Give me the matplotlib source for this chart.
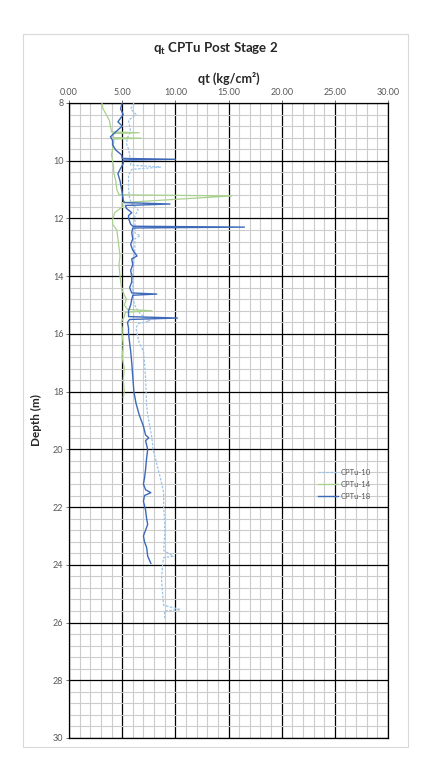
import matplotlib
matplotlib.use("Agg")
import matplotlib.pyplot as plt
from matplotlib.ticker import MultipleLocator, FormatStrFormatter
from matplotlib.patches import Rectangle

plt.rcParams['font.family'] = ['Lato', 'DejaVu Sans']
plt.rcParams['mathtext.fontset'] = 'custom'
plt.rcParams['mathtext.rm'] = 'Lato'
plt.rcParams['mathtext.bf'] = 'Lato:bold'

# ---------------- data ----------------
series_names = ["CPTu-10", "CPTu-14", "CPTu-18"]

cptu10_depth = [8.0, 8.2, 8.4, 8.6, 8.8, 9.0, 9.2, 9.4, 9.6, 9.8, 10.0, 10.15, 10.22, 10.3,
                10.5, 10.7, 11.0, 11.3, 11.5, 11.7, 11.9, 12.2, 12.5, 12.6, 12.7, 13.0, 13.5,
                14.0, 14.5, 14.9, 15.1, 15.3, 15.55, 15.65, 15.8, 16.0, 16.3, 16.6, 17.0, 17.5,
                18.0, 18.5, 18.8, 19.2, 19.6, 20.0, 20.5, 21.0, 21.5, 22.0, 22.5, 23.0, 23.5,
                23.7, 23.75, 24.0, 24.5, 25.0, 25.4, 25.55, 25.6, 25.85]
cptu10_qt = [6.1, 5.8, 6.3, 5.6, 5.7, 5.8, 5.5, 5.4, 5.6, 5.7, 5.8, 5.8, 8.6, 5.9,
             5.6, 5.6, 5.6, 5.7, 5.9, 6.5, 6.2, 6.2, 6.2, 6.7, 6.2, 6.2, 6.1,
             6.0, 6.0, 6.1, 6.3, 6.7, 7.6, 6.5, 6.3, 6.4, 6.6, 7.0, 7.1, 7.2,
             7.25, 7.3, 7.4, 7.6, 7.8, 7.9, 8.25, 8.6, 8.9, 8.9, 9.0, 9.0, 8.9,
             9.8, 8.9, 8.8, 8.7, 8.8, 8.9, 10.5, 9.0, 9.0]

cptu14_depth = [8.0, 8.2, 8.4, 8.6, 8.8, 9.0, 9.03, 9.06, 9.2, 9.22, 9.25, 9.4, 9.6, 9.8,
                10.0, 10.2, 10.4, 10.7, 11.0, 11.18, 11.22, 11.45, 11.6, 11.8, 12.05, 12.2,
                12.4, 12.7, 13.0, 13.3, 13.6, 14.0, 14.3, 14.5, 14.8, 15.0, 15.15, 15.2, 15.25,
                15.4, 15.6, 15.8, 16.0, 16.4, 16.8, 17.2, 17.6, 18.0, 18.2]
cptu14_qt = [3.1, 3.2, 3.5, 3.8, 3.9, 4.0, 6.6, 4.1, 4.2, 6.8, 4.2, 4.2, 4.1, 4.0,
             4.1, 4.2, 4.2, 4.4, 4.5, 4.7, 15.3, 5.0, 5.0, 4.3, 4.1, 4.1,
             4.5, 4.6, 4.7, 4.8, 4.7, 4.8, 4.9, 5.0, 5.4, 5.2, 5.5, 7.8, 5.3,
             5.2, 4.9, 5.0, 5.0, 5.1, 5.0, 5.2, 5.1, 5.2, 5.1]

cptu18_depth = [8.0, 8.2, 8.4, 8.55, 8.65, 8.8, 9.0, 9.17, 9.3, 9.45, 9.63, 9.8, 9.92, 9.95,
                9.98, 10.1, 10.3, 10.45, 10.7, 10.9, 11.1, 11.36, 11.45, 11.5, 11.55, 11.65,
                11.8, 11.9, 12.0, 12.2, 12.27, 12.3, 12.33, 12.5, 12.7, 12.9, 13.1, 13.3, 13.4,
                13.6, 13.8, 14.0, 14.2, 14.4, 14.58, 14.62, 14.66, 14.8, 15.0, 15.2, 15.4,
                15.45, 15.5, 15.6, 15.8, 16.0, 16.3, 16.6, 17.0, 17.5, 18.0, 18.4, 18.8, 19.2,
                19.5, 19.6, 19.7, 20.0, 20.3, 20.7, 21.0, 21.2, 21.4, 21.5, 21.6, 21.8, 22.1,
                22.4, 22.6, 22.8, 23.0, 23.2, 23.4, 23.7, 23.95]
cptu18_qt = [5.0, 4.85, 5.1, 4.8, 4.6, 5.0, 4.4, 3.9, 4.1, 4.1, 4.4, 4.95, 5.0, 10.0,
             5.1, 5.1, 4.8, 4.6, 4.8, 4.9, 5.0, 5.1, 5.2, 9.5, 5.3, 5.4,
             5.9, 5.6, 5.6, 5.8, 6.0, 16.5, 6.0, 5.9, 6.0, 5.8, 6.0, 6.4, 5.9,
             6.0, 5.8, 5.9, 5.9, 5.7, 5.9, 8.25, 6.0, 5.9, 5.8, 5.6, 5.6,
             10.2, 5.7, 5.5, 5.6, 5.6, 5.7, 5.8, 5.9, 6.0, 6.1, 6.3, 6.6, 7.0,
             7.2, 7.5, 7.2, 7.4, 7.3, 7.2, 7.1, 7.0, 7.2, 7.7, 7.1, 7.0, 7.2,
             7.3, 7.4, 7.2, 7.0, 7.1, 7.3, 7.4, 7.7]

x_ticks = [0, 5, 10, 15, 20, 25, 30]
y_ticks = [8, 10, 12, 14, 16, 18, 20, 22, 24, 26, 28, 30]

# ---------------- figure ----------------
W, H = 423, 765
fig = plt.figure(figsize=(W / 100, H / 100), dpi=100)
fig.patch.set_facecolor('white')

# chart border
fig.patches.append(Rectangle((23 / W, 1 - 747 / H), (408 - 23) / W, (747 - 34) / H,
                             transform=fig.transFigure, fill=False,
                             edgecolor='#D9D9D9', linewidth=0.8))

ax = fig.add_axes([69 / W, 1 - 738 / H, (388 - 69) / W, (738 - 103) / H])

ax.plot(cptu10_qt, cptu10_depth, color='#9DC3E6', lw=0.9, ls=(0, (2, 1.2)), label=series_names[0], zorder=3)
ax.plot(cptu14_qt, cptu14_depth, color='#A9D18E', lw=0.9, label=series_names[1], zorder=3)
ax.plot(cptu18_qt, cptu18_depth, color='#3D69B8', lw=1.0, label=series_names[2], zorder=4)

ax.set_xlim(0, 30)
ax.set_ylim(30, 8)
ax.xaxis.set_minor_locator(MultipleLocator(1))
ax.yaxis.set_minor_locator(MultipleLocator(0.4))
ax.set_xticks(x_ticks)
ax.set_yticks(y_ticks)
ax.xaxis.set_major_formatter(FormatStrFormatter('%.2f'))

ax.xaxis.tick_top()
ax.xaxis.set_label_position('top')
ax.tick_params(axis='both', which='major', labelsize=6.5, colors='#595959', length=2, width=0.6, pad=2)
ax.tick_params(axis='both', which='minor', length=0)

ax.grid(which='major', color='black', lw=0.9, zorder=1)
ax.grid(which='minor', color='#CCCCCC', lw=0.8, zorder=0)
ax.set_axisbelow(True)
for s in ax.spines.values():
    s.set_color('black')
    s.set_linewidth(0.9)

ax.set_xlabel('qt (kg/cm²)', fontsize=9, fontweight='bold', color='#262626', labelpad=4)
ax.set_ylabel('Depth (m)', fontsize=8.5, fontweight='bold', color='#262626', labelpad=8)

fig.text((23 + 408) / 2 / W, 1 - 49 / H, r'$\mathbf{q_t}$ CPTu Post Stage 2', ha='center', va='center',
         fontsize=9.5, fontweight='bold', color='#262626')

leg = ax.legend(loc='upper left', bbox_to_anchor=((318 - 69) / (388 - 69), 1 - (469 - 103) / (738 - 103)),
                frameon=False, fontsize=5.5, handlelength=2.6, handletextpad=0.3, labelspacing=0.65,
                borderaxespad=0, borderpad=0)
for t in leg.get_texts():
    t.set_color('#595959')

fig.savefig('out.png', dpi=100, facecolor='white')
